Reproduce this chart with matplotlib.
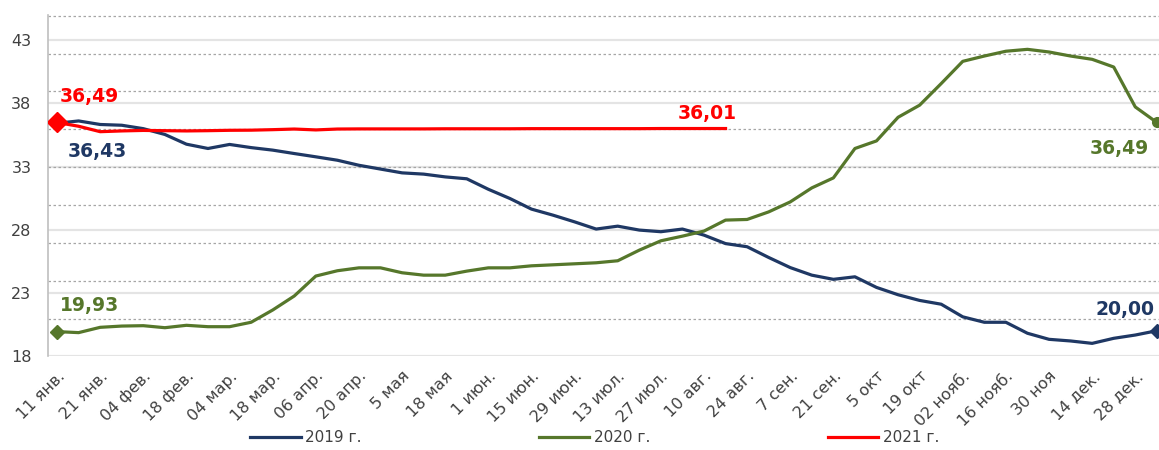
import numpy as np
import matplotlib
matplotlib.use("Agg")
import matplotlib.pyplot as plt

# weekly dates (every other one is labelled)
tick_labels = ['11 янв.', '21 янв.', '04 фев.', '18 фев.', '04 мар.', '18 мар.',
               '06 апр.', '20 апр.', '5 мая', '18 мая', '1 июн.', '15 июн.',
               '29 июн.', '13 июл.', '27 июл.', '10 авг.', '24 авг.', '7 сен.',
               '21 сен.', '5 окт', '19 окт', '02 нояб.', '16 нояб.', '30 ноя',
               '14 дек.', '28 дек.']

y2019 = [36.43, 36.61, 36.33, 36.27, 36.00, 35.54, 34.77, 34.43, 34.75, 34.50,
         34.30, 34.03, 33.77, 33.50, 33.10, 32.80, 32.50, 32.40, 32.18, 32.03,
         31.20, 30.47, 29.63, 29.15, 28.62, 28.05, 28.28, 27.97, 27.84, 28.05,
         27.57, 26.90, 26.65, 25.80, 25.00, 24.40, 24.07, 24.27, 23.43, 22.85,
         22.40, 22.10, 21.10, 20.67, 20.67, 19.80, 19.32, 19.19, 19.00, 19.40,
         19.66, 20.00]

y2020 = [19.93, 19.85, 20.27, 20.37, 20.40, 20.24, 20.43, 20.32, 20.32, 20.67,
         21.64, 22.75, 24.33, 24.75, 24.98, 24.98, 24.59, 24.40, 24.40, 24.72,
         24.98, 24.98, 25.14, 25.22, 25.30, 25.38, 25.54, 26.38, 27.12, 27.49,
         27.89, 28.76, 28.81, 29.41, 30.20, 31.31, 32.10, 34.43, 35.03, 36.90,
         37.86, 39.57, 41.33, 41.75, 42.13, 42.28, 42.07, 41.75, 41.49, 40.88,
         37.72, 36.49]

y2021 = [36.49, 36.19, 35.76, 35.82, 35.86, 35.84, 35.82, 35.84, 35.87, 35.88,
         35.92, 35.97, 35.90, 35.97, 35.98, 35.98, 35.98, 35.98, 35.99, 35.99,
         35.99, 35.99, 36.00, 36.00, 36.00, 36.00, 36.00, 36.00, 36.01, 36.01,
         36.01, 36.01]

c2019 = '#1f3864'
c2020 = '#56772b'
c2021 = '#ff0000'

fig = plt.figure(figsize=(11.59, 4.5), dpi=100)
ax = fig.add_axes([0.0414, 0.2089, 0.9586, 0.7578])

x19 = np.arange(len(y2019))
x20 = np.arange(len(y2020))
x21 = np.arange(len(y2021))

# gridlines: light solid at ticks, dashed secondary set
yticks = np.arange(18, 44, 5)
for v in yticks:
    ax.axhline(v, color='#e4e4e4', lw=1.6, zorder=0)
for v in np.arange(20.95, 45.5, 3.0):
    ax.axhline(v, color='#a6a6a6', lw=0.9, ls=(0, (2, 2)), zorder=0)

ax.plot(x19, y2019, color=c2019, lw=2.3, label='2019 г.', zorder=3)
ax.plot(x20, y2020, color=c2020, lw=2.3, label='2020 г.', zorder=3)
ax.plot(x21, y2021, color=c2021, lw=2.3, label='2021 г.', zorder=4)

ax.plot(x20[0], y2020[0], 'D', color=c2020, ms=7, zorder=5)
ax.plot(x20[-1], y2020[-1], 'o', color=c2020, ms=7, zorder=5)
ax.plot(x19[-1], y2019[-1], 'D', color=c2019, ms=7, zorder=5)
ax.plot(x21[0], y2021[0], 'D', color=c2021, ms=10, zorder=6)

lab = dict(fontsize=13.5, fontweight='bold', textcoords='offset points', va='center')
ax.annotate('36,49', (x21[0], y2021[0]), xytext=(2, 19), color=c2021, ha='left', **lab)
ax.annotate('36,43', (x19[0], y2019[0]), xytext=(8, -20), color=c2019, ha='left', **lab)
ax.annotate('19,93', (x20[0], y2020[0]), xytext=(2, 19), color=c2020, ha='left', **lab)
ax.annotate('36,01', (x21[-1], y2021[-1]), xytext=(8, 11), color=c2021, ha='right', **lab)
ax.annotate('20,00', (x19[-1], y2019[-1]), xytext=(-2, 15), color=c2019, ha='right', **lab)
ax.annotate('36,49', (x20[-1], y2020[-1]), xytext=(-6, -19), color=c2020, ha='right', **lab)

ax.set_xlim(-0.42, 51.1)
ax.set_ylim(18, 45)
ax.set_yticks(yticks)
ax.set_xticks(np.arange(0, 52, 2))
ax.set_xticklabels(tick_labels, rotation=45, ha='right', rotation_mode='anchor')
ax.tick_params(axis='both', length=0, colors='#404040')
ax.tick_params(axis='y', labelsize=11.5, pad=12)
ax.tick_params(axis='x', labelsize=11.5, pad=9)

for s in ['top', 'right', 'bottom']:
    ax.spines[s].set_visible(False)
ax.spines['left'].set_color('#bfbfbf')
ax.spines['left'].set_linewidth(1.2)

leg = fig.legend(loc='center', bbox_to_anchor=(0.513, 0.027), ncol=3, frameon=False,
                 fontsize=11, handlelength=3.3, columnspacing=11.6, handletextpad=0.3)
for t in leg.get_texts():
    t.set_color('#404040')

fig.savefig('out.png', dpi=100)
